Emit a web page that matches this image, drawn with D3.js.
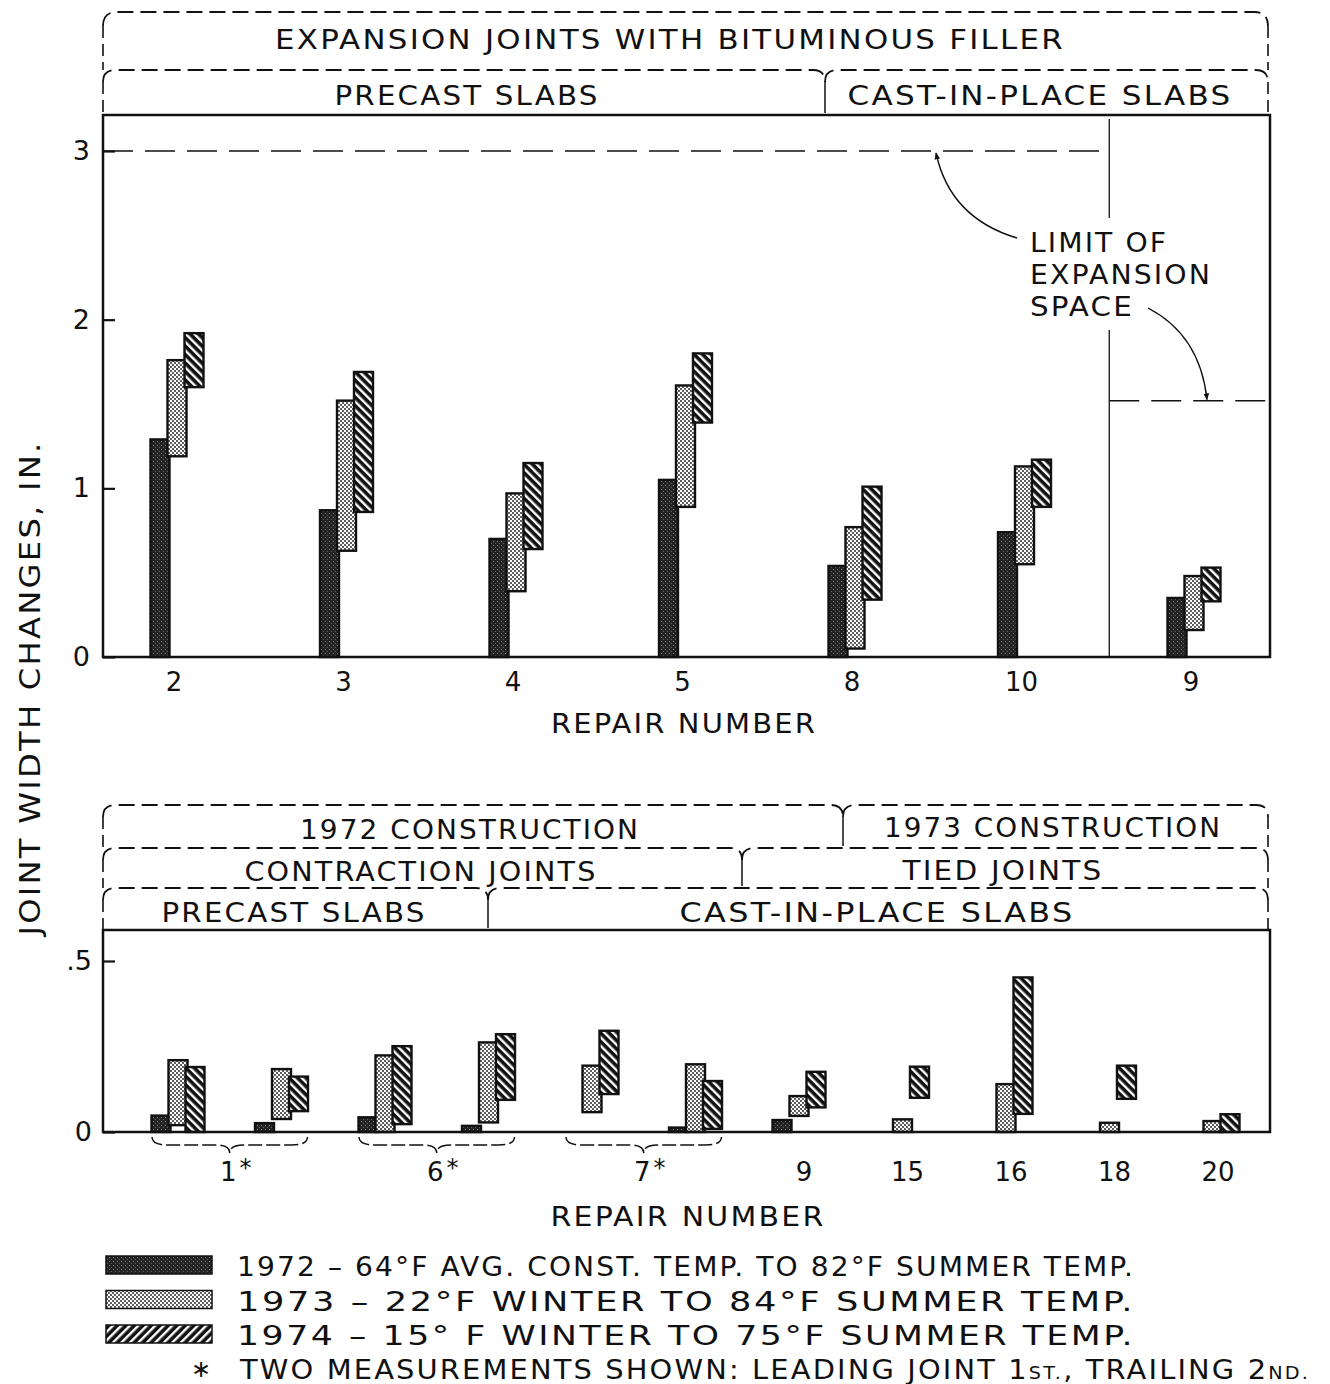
<!DOCTYPE html>
<html>
<head>
<meta charset="utf-8">
<script src="https://cdn.jsdelivr.net/npm/d3@7"></script>
<style>
  body { margin: 0; background: #fff; }
  text { font-family: "DejaVu Sans", sans-serif; fill: #111; }
  .wide { letter-spacing: 2px; }
</style>
</head>
<body>
<div class="chart"></div>
<script>
var svgWidth = 1330;
var svgHeight = 1384;

// Top panel: expansion joints. Each bar is [bottom, top] in inches.
var topRepairs = ["2", "3", "4", "5", "8", "10", "9"];
var top1972 = [[0, 1.29], [0, 0.87], [0, 0.70], [0, 1.05], [0, 0.54], [0, 0.74], [0, 0.35]];
var top1973 = [[1.19, 1.76], [0.63, 1.52], [0.39, 0.97], [0.89, 1.61], [0.05, 0.77], [0.55, 1.13], [0.16, 0.48]];
var top1974 = [[1.60, 1.92], [0.86, 1.69], [0.64, 1.15], [1.39, 1.80], [0.34, 1.01], [0.89, 1.17], [0.33, 0.53]];
var topTicks = [0, 1, 2, 3];
var limitPrecast = 3;
var limitCast = 1.52;

// Bottom panel: contraction / tied joints. "a" = leading joint, "b" = trailing joint.
var bottomSlots = ["1a", "1b", "6a", "6b", "7a", "7b", "9", "15", "16", "18", "20"];
var bottom1972 = [[0, 0.048], [0, 0.026], [0, 0.043], [0, 0.018], null, [0, 0.013], [0, 0.035], null, null, null, null];
var bottom1973 = [[0.02, 0.21], [0.038, 0.184], [0, 0.224], [0.028, 0.262], [0.058, 0.194], [0, 0.198],
                  [0.047, 0.105], [0, 0.037], [0, 0.14], [0, 0.027], [0, 0.032]];
var bottom1974 = [[0, 0.19], [0.061, 0.162], [0.023, 0.251], [0.094, 0.286], [0.111, 0.296], [0.009, 0.149],
                  [0.072, 0.176], [0.10, 0.191], [0.053, 0.452], [0.097, 0.194], [0, 0.052]];
var bottomTicks = [0, 0.5];
var pairedRepairs = [["1", "1a", "1b"], ["6", "6a", "6b"], ["7", "7a", "7b"]];
var singleRepairs = ["9", "15", "16", "18", "20"];

var legendLabels = [
  "1972 \u2013 64\u00B0F AVG. CONST. TEMP. TO 82\u00B0F SUMMER TEMP.",
  "1973 \u2013 22\u00B0F WINTER TO 84\u00B0F SUMMER TEMP.",
  "1974 \u2013 15\u00B0 F WINTER TO 75\u00B0F SUMMER TEMP."
];

var left = 103, right = 1270;

var svg = d3.select(".chart").append("svg")
  .attr("width", svgWidth)
  .attr("height", svgHeight);

// fill patterns
var defs = svg.append("defs");

var pDark = defs.append("pattern").attr("id", "dark")
  .attr("patternUnits", "userSpaceOnUse").attr("width", 4).attr("height", 4);
pDark.append("rect").attr("width", 4).attr("height", 4).attr("fill", "#222");
pDark.append("rect").attr("x", 1).attr("y", 1).attr("width", 1).attr("height", 1).attr("fill", "#8a8a8a");
pDark.append("rect").attr("x", 3).attr("y", 3).attr("width", 1).attr("height", 1).attr("fill", "#666");

var pLight = defs.append("pattern").attr("id", "light")
  .attr("patternUnits", "userSpaceOnUse").attr("width", 4).attr("height", 4);
pLight.append("rect").attr("width", 4).attr("height", 4).attr("fill", "#fff");
pLight.append("circle").attr("cx", 1).attr("cy", 1).attr("r", 0.9).attr("fill", "#111");
pLight.append("circle").attr("cx", 3).attr("cy", 3).attr("r", 0.9).attr("fill", "#111");

function hatch(id, angle) {
  var p = defs.append("pattern").attr("id", id)
    .attr("patternUnits", "userSpaceOnUse").attr("width", 6).attr("height", 6)
    .attr("patternTransform", "rotate(" + angle + ")");
  p.append("rect").attr("width", 6).attr("height", 6).attr("fill", "#111");
  p.append("rect").attr("x", 2).attr("width", 2.4).attr("height", 6).attr("fill", "#fff");
}
hatch("hatch", -45);
hatch("hatchLegend", 45);

var fills = ["url(#dark)", "url(#light)", "url(#hatch)"];

// dashed bracket headers
function bracketTier(y, xs, down, r) {
  var g = svg.append("g").attr("fill", "none").attr("stroke", "#111");
  for (var i = 0; i < xs.length - 1; i++) {
    var a = xs[i], b = xs[i + 1];
    g.append("path")
      .attr("d", "M" + a + "," + (y + r) + " Q" + a + "," + y + " " + (a + r) + "," + y +
                 " L" + (b - r) + "," + y + " Q" + b + "," + y + " " + b + "," + (y + r))
      .attr("stroke-width", 1.8).attr("stroke-dasharray", "16,7");
  }
  // outer sides
  [xs[0], xs[xs.length - 1]].forEach(function(x) {
    g.append("line").attr("x1", x).attr("x2", x).attr("y1", y + r).attr("y2", down)
      .attr("stroke-width", 1.6).attr("stroke-dasharray", "12,6");
  });
  // inner dividers
  xs.slice(1, -1).forEach(function(x) {
    g.append("line").attr("x1", x).attr("x2", x).attr("y1", y + r).attr("y2", down - 2)
      .attr("stroke-width", 1.5);
  });
}

// fitted lettering: glyphs are widened to the measured span of the original text
function label(txt, x, y, len, size) {
  return svg.append("text").attr("class", "wide").attr("x", x).attr("y", y)
    .attr("text-anchor", "middle")
    .style("font-size", (size || 27) + "px")
    .attr("textLength", len).attr("lengthAdjust", "spacingAndGlyphs")
    .text(txt);
}

function drawBars(g, x, y, series, keys, offset, width) {
  series.forEach(function(values, s) {
    g.selectAll(".s" + s)
      .data(keys.map(function(k, i) { return { key: k, v: values[i] }; })
        .filter(function(d) { return d.v; }))
      .enter()
      .append("rect")
      .attr("class", "s" + s)
      .attr("x", function(d) { return x(d.key) + (s - 1) * offset - width / 2; })
      .attr("y", function(d) { return y(d.v[1]); })
      .attr("width", width)
      .attr("height", function(d) { return Math.max(y(d.v[0]) - y(d.v[1]), 2); })
      .attr("fill", fills[s])
      .attr("stroke", "#111")
      .attr("stroke-width", 2.4);
  });
}

function styleAxis(g) {
  g.select(".domain").remove();
  g.selectAll(".tick line").attr("stroke", "#111").attr("stroke-width", 2.2);
  g.selectAll(".tick text").style("font-size", "27px").attr("fill", "#111")
    .style("font-family", "DejaVu Sans");
}

// ---------- TOP PANEL ----------
var topY0 = 115, topY1 = 657;
bracketTier(12, [left, 1268], 70, 14);
bracketTier(70, [left, 825, 1268], topY0, 12);
label("EXPANSION JOINTS WITH BITUMINOUS FILLER", 670, 49, 790);
label("PRECAST SLABS", 467, 105, 265);
label("CAST-IN-PLACE SLABS", 1040, 105, 385);

var xTop = d3.scalePoint().domain(topRepairs).range([left + 74, right - 76]);
var yTop = d3.scaleLinear().domain([0, 3]).range([topY1, 151]);

var topChart = svg.append("g");

// limit of expansion space lines
var divX = (xTop("10") + xTop("9")) / 2;
topChart.append("line").attr("x1", left).attr("x2", divX)
  .attr("y1", yTop(limitPrecast)).attr("y2", yTop(limitPrecast))
  .attr("stroke", "#111").attr("stroke-width", 1.5).attr("stroke-dasharray", "30,12");
topChart.append("line").attr("x1", divX).attr("x2", right - 4)
  .attr("y1", yTop(limitCast)).attr("y2", yTop(limitCast))
  .attr("stroke", "#111").attr("stroke-width", 1.5).attr("stroke-dasharray", "30,12");
topChart.append("line").attr("x1", divX).attr("x2", divX).attr("y1", topY0 + 4).attr("y2", 218)
  .attr("stroke", "#111").attr("stroke-width", 1.3);
topChart.append("line").attr("x1", divX).attr("x2", divX).attr("y1", 330).attr("y2", topY1)
  .attr("stroke", "#111").attr("stroke-width", 1.3);

drawBars(topChart, xTop, yTop, [top1972, top1973, top1974], topRepairs, 17, 19);

topChart.append("rect").attr("x", left).attr("y", topY0)
  .attr("width", right - left).attr("height", topY1 - topY0)
  .attr("fill", "none").attr("stroke", "#111").attr("stroke-width", 2.5);

var topAxis = d3.axisLeft(yTop).tickValues(topTicks).tickFormat(d3.format("d"))
  .tickSizeInner(-12).tickSizeOuter(0).tickPadding(13);
topChart.append("g").attr("transform", "translate(" + left + ",0)").call(topAxis).call(styleAxis);

topChart.selectAll(".xlab").data(topRepairs).enter().append("text")
  .attr("x", function(d) { return xTop(d) - 3; })
  .attr("y", 691)
  .attr("text-anchor", "middle")
  .style("font-size", "26px")
  .text(function(d) { return d; });
label("REPAIR NUMBER", 684, 733, 266);

// annotation
[["LIMIT OF", 252, 138], ["EXPANSION", 284, 182], ["SPACE", 316, 104]].forEach(function(t) {
  svg.append("text").attr("class", "wide").attr("x", 1030).attr("y", t[1])
    .style("font-size", "27px").attr("textLength", t[2]).attr("lengthAdjust", "spacingAndGlyphs").text(t[0]);
});
defs.append("marker").attr("id", "arrow").attr("viewBox", "0 0 10 10")
  .attr("refX", 9).attr("refY", 5).attr("markerWidth", 7).attr("markerHeight", 7)
  .attr("orient", "auto-start-reverse").attr("markerUnits", "userSpaceOnUse")
  .append("path").attr("d", "M0,1 L10,5 L0,9 Z").attr("fill", "#111");
svg.append("path").attr("d", "M1017,238 Q950,218 936,153")
  .attr("fill", "none").attr("stroke", "#111").attr("stroke-width", 1.4).attr("marker-end", "url(#arrow)");
svg.append("path").attr("d", "M1148,308 Q1200,335 1207," + (yTop(limitCast) - 1))
  .attr("fill", "none").attr("stroke", "#111").attr("stroke-width", 1.4).attr("marker-end", "url(#arrow)");

// y axis title
svg.append("text")
  .attr("class", "wide")
  .attr("transform", "translate(40,688) rotate(-90)")
  .attr("text-anchor", "middle")
  .style("font-size", "29px")
  .attr("textLength", 495).attr("lengthAdjust", "spacingAndGlyphs")
  .text("JOINT WIDTH CHANGES, IN.");

// ---------- BOTTOM PANEL ----------
var botY0 = 930, botY1 = 1132;
bracketTier(805, [left, 843, 1268], 848, 12);
bracketTier(848, [left, 742, 1268], 888, 12);
bracketTier(888, [left, 488, 1268], botY0, 12);
label("1972 CONSTRUCTION", 470, 839, 340);
label("1973 CONSTRUCTION", 1053, 837, 338);
label("CONTRACTION JOINTS", 421, 881, 353);
label("TIED JOINTS", 1003, 880, 201);
label("PRECAST SLABS", 294, 922, 265);
label("CAST-IN-PLACE SLABS", 877, 922, 395);

var xBot = d3.scalePoint().domain(bottomSlots).range([left + 75, right - 57]);
var yBot = d3.scaleLinear().domain([0, 0.5]).range([botY1, 961]);

var botChart = svg.append("g");
drawBars(botChart, xBot, yBot, [bottom1972, bottom1973, bottom1974], bottomSlots, 17, 19);

botChart.append("rect").attr("x", left).attr("y", botY0)
  .attr("width", right - left).attr("height", botY1 - botY0)
  .attr("fill", "none").attr("stroke", "#111").attr("stroke-width", 2.5);

var botAxis = d3.axisLeft(yBot).tickValues(bottomTicks).tickSizeInner(-12).tickSizeOuter(0).tickPadding(11)
  .tickFormat(function(d) { return d === 0 ? "0" : ".5"; });
botChart.append("g").attr("transform", "translate(" + left + ",0)").call(botAxis).call(styleAxis);

// braces under paired measurements
pairedRepairs.forEach(function(p) {
  var x0 = xBot(p[1]) - 26, x1 = xBot(p[2]) + 26, xm = (x0 + x1) / 2, y0 = 1137;
  botChart.append("path")
    .attr("d", "M" + x0 + "," + y0 + " Q" + x0 + "," + (y0 + 8) + " " + (x0 + 16) + "," + (y0 + 8) +
               " L" + (xm - 14) + "," + (y0 + 8) + " Q" + xm + "," + (y0 + 8) + " " + xm + "," + (y0 + 16) +
               " Q" + xm + "," + (y0 + 8) + " " + (xm + 14) + "," + (y0 + 8) +
               " L" + (x1 - 16) + "," + (y0 + 8) + " Q" + x1 + "," + (y0 + 8) + " " + x1 + "," + y0)
    .attr("fill", "none").attr("stroke", "#111").attr("stroke-width", 1.5).attr("stroke-dasharray", "14,4");
  var t = botChart.append("text").attr("x", xm + 6).attr("y", 1181)
    .attr("text-anchor", "middle").style("font-size", "26px");
  t.append("tspan").text(p[0]);
  t.append("tspan").attr("dx", 3).attr("dy", -5).style("font-size", "24px").text("*");
});
botChart.selectAll(".xlab").data(singleRepairs).enter().append("text")
  .attr("x", function(d) { return xBot(d) + 5; })
  .attr("y", 1181)
  .attr("text-anchor", "middle")
  .style("font-size", "26px")
  .text(function(d) { return d; });
label("REPAIR NUMBER", 688, 1226, 275);

// ---------- LEGEND ----------
var legendFills = ["url(#dark)", "url(#light)", "url(#hatchLegend)"];
var legend = svg.append("g");
legendLabels.forEach(function(txt, i) {
  var yc = 1265 + i * 34.5;
  legend.append("rect").attr("x", 106).attr("y", yc - 9).attr("width", 106).attr("height", 18)
    .attr("fill", legendFills[i]).attr("stroke", "#111").attr("stroke-width", 1.5);
  legend.append("text").attr("class", "wide").attr("x", 237).attr("y", yc + 11)
    .style("font-size", "27px").attr("textLength", 898).attr("lengthAdjust", "spacingAndGlyphs").text(txt);
});
legend.append("text").attr("x", 201).attr("y", 1369).attr("text-anchor", "middle")
  .attr("dominant-baseline", "central")
  .style("font-size", "24px").text("\u2217");
var note = legend.append("text").attr("class", "wide").attr("x", 240).attr("y", 1379)
  .style("font-size", "27px").attr("textLength", 1070).attr("lengthAdjust", "spacingAndGlyphs");
note.append("tspan").text("TWO MEASUREMENTS SHOWN: LEADING JOINT 1");
note.append("tspan").style("font-size", "18px").text("ST.");
note.append("tspan").text(", TRAILING 2");
note.append("tspan").style("font-size", "18px").text("ND.");
</script>
</body>
</html>
